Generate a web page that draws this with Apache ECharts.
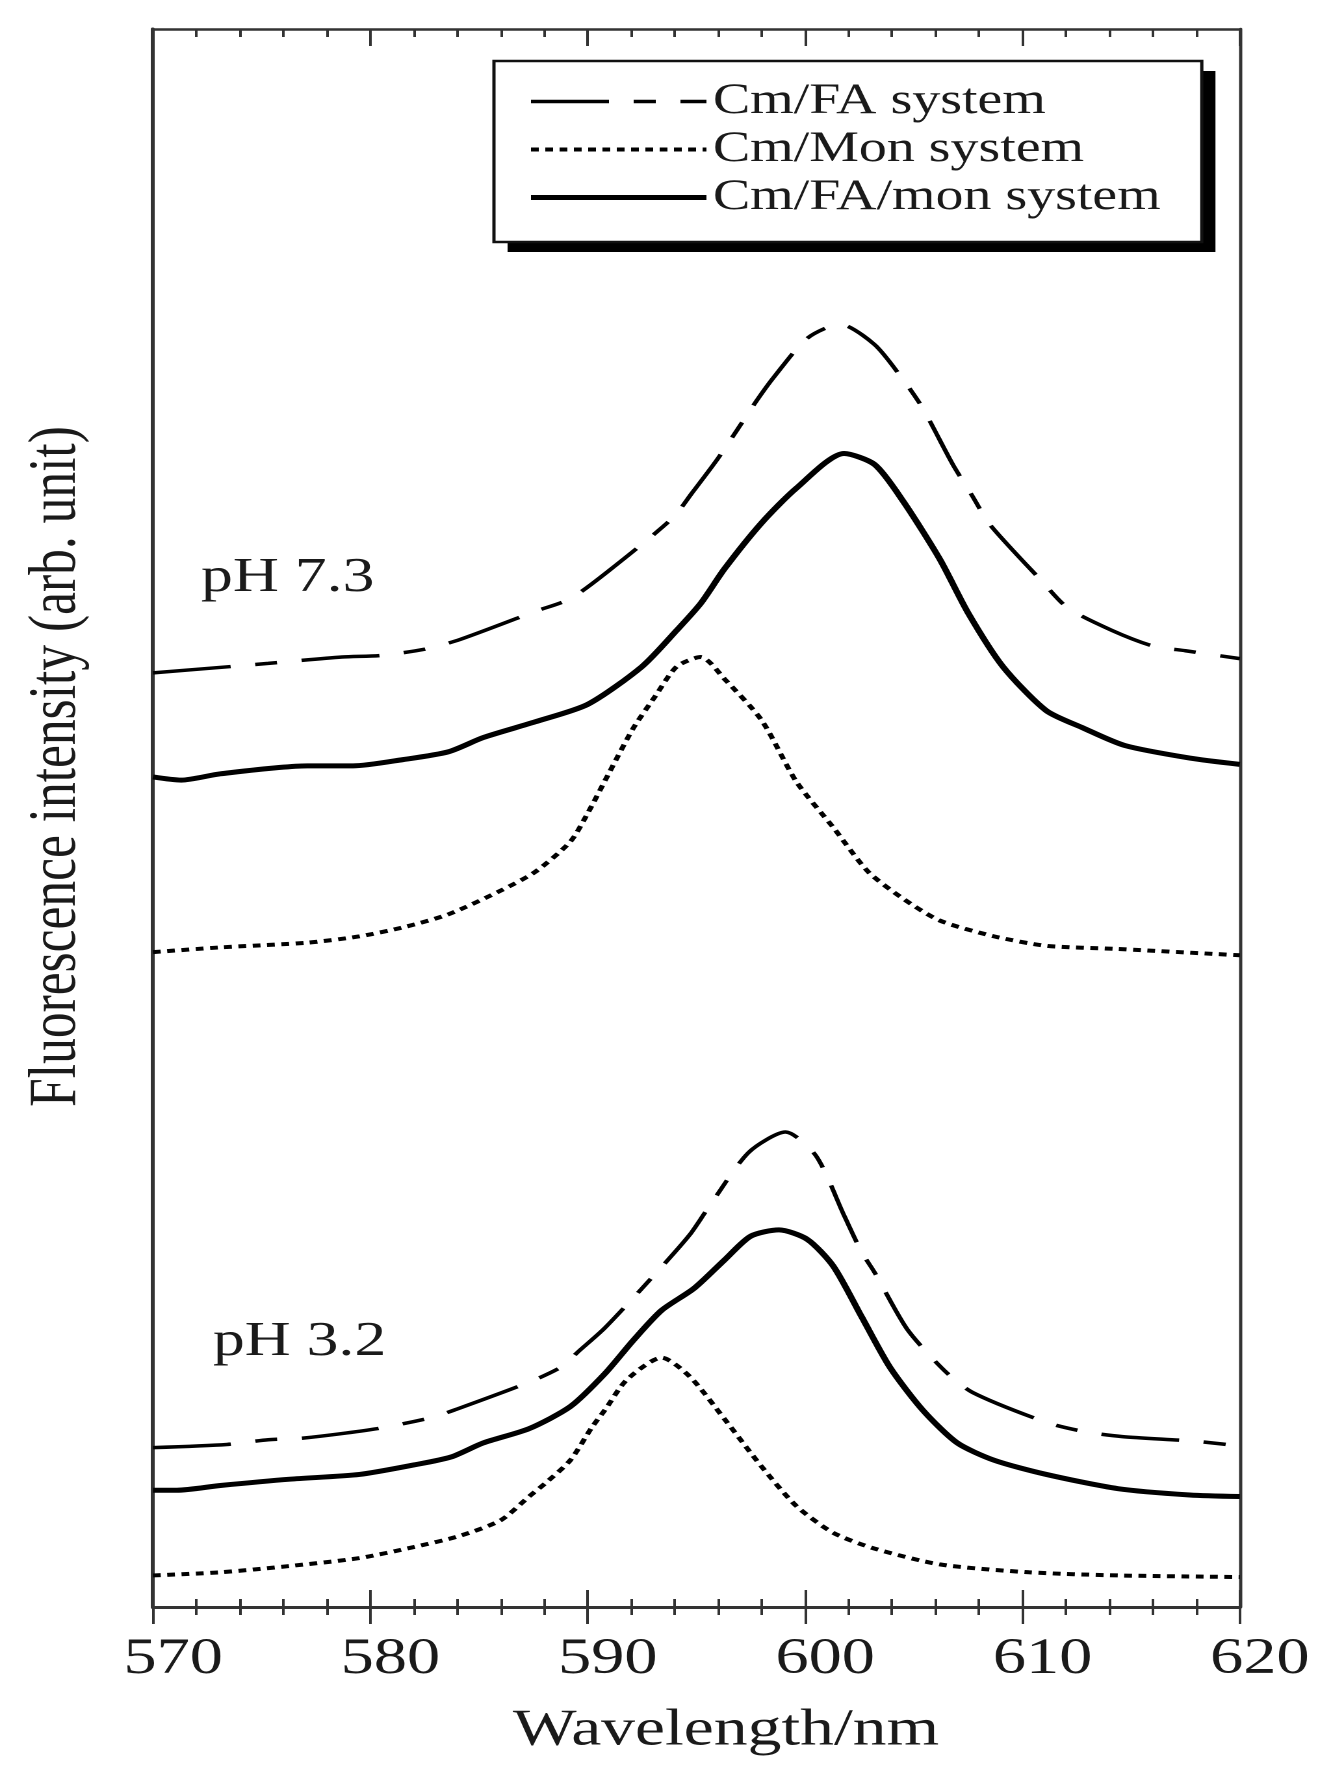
<!DOCTYPE html>
<html><head><meta charset="utf-8">
<script src="https://cdn.jsdelivr.net/npm/echarts@6.0.0/dist/echarts.min.js"></script>
<style>
html,body{margin:0;padding:0;background:#fff;overflow:hidden;}
#chart{width:1034px;height:1776px;transform:scaleX(1.2998);transform-origin:0 0;}
</style></head>
<body><div id="chart"></div>
<script>
// ---- data (wavelength in nm, intensity in arbitrary units 0-100) ----
var seriesNames = ['Cm/FA system', 'Cm/Mon system', 'Cm/FA/mon system'];
var xTickLabels = [570, 580, 590, 600, 610, 620];
var textLabels = ['pH 7.3', 'pH 3.2'];

// pH 7.3
var faPH73Wl  = [570.0,573.6,575.3,578.7,580.5,582.5,584.1,587.6,589.2,591.0,593.9,594.8,596.0,597.8,598.6,600.1,601.6,603.2,604.5,605.4,606.8,607.7,608.5,610.9,612.1,614.1,616.0,617.5,620.0];
var faPH73Int = [59.2,59.6,59.8,60.2,60.3,60.7,61.3,63.1,63.9,65.7,69.0,70.6,72.8,76.5,78.0,80.4,81.3,80.0,77.8,76.0,72.4,70.4,68.6,65.0,63.3,61.9,60.9,60.6,60.1];

var monPH73Wl  = [570.0,573.1,577.1,579.5,581.6,583.6,586.0,587.6,589.2,590.0,591.0,592.1,593.1,594.1,595.2,596.3,598.0,599.6,601.3,602.9,604.5,606.2,608.7,611.1,614.4,620.0];
var monPH73Int = [41.5,41.8,42.1,42.5,43.1,43.9,45.4,46.6,48.5,50.3,52.9,55.7,57.7,59.6,60.2,58.8,56.2,52.3,49.4,46.6,44.9,43.5,42.5,41.9,41.7,41.3];

var mixPH73Wl  = [570.0,571.3,573.1,577.1,579.2,581.5,583.6,585.2,587.6,590.0,592.5,594.1,595.2,596.3,598.0,599.6,601.8,603.2,604.5,606.2,607.5,609.1,611.1,612.8,614.7,617.7,620.0];
var mixPH73Int = [52.6,52.4,52.8,53.3,53.3,53.7,54.2,55.1,56.1,57.2,59.6,61.9,63.6,65.8,68.7,70.9,73.1,72.4,70.1,66.4,63.0,59.6,56.8,55.7,54.6,53.8,53.4];

// pH 3.2
var faPH32Wl  = [570.0,573.4,575.3,576.9,580.3,582.8,583.9,587.4,588.9,589.5,590.8,593.3,594.7,595.5,597.4,599.1,600.5,601.8,602.6,603.2,604.7,606.4,607.7,611.1,612.9,614.6,618.0,620.0];
var faPH32Int = [10.1,10.3,10.6,10.7,11.3,12.0,12.5,14.3,15.3,16.1,17.7,21.4,23.6,25.2,28.8,30.1,28.6,24.8,22.5,21.2,17.6,15.0,13.6,11.7,11.1,10.8,10.5,10.2];

var monPH32Wl  = [570.0,573.1,576.3,579.5,582.0,584.1,586.0,587.3,588.1,589.2,590.2,590.8,591.8,593.4,594.7,596.3,598.0,599.6,601.3,603.2,606.2,610.3,614.4,620.0];
var monPH32Int = [2.0,2.2,2.6,3.1,3.8,4.5,5.5,7.0,7.9,9.3,11.4,12.5,14.4,15.8,14.6,11.9,8.9,6.4,4.7,3.7,2.7,2.2,2.0,1.9];

var mixPH32Wl  = [570.0,571.1,573.1,576.3,579.5,582.0,583.7,585.2,587.3,589.2,590.8,592.1,593.4,594.9,596.3,597.5,598.8,600.1,601.3,602.6,603.9,605.4,607.0,608.7,611.1,614.4,617.7,620.0];
var mixPH32Int = [7.4,7.4,7.7,8.1,8.4,9.0,9.5,10.4,11.3,12.7,14.8,16.9,18.8,20.2,22.0,23.5,23.9,23.3,21.6,18.4,15.2,12.5,10.4,9.3,8.4,7.5,7.1,7.0];

// ---- build ----
function pairs(xs, ys) { return xs.map(function (x, i) { return [x, ys[i]]; }); }
var FONT = '"Liberation Serif", "Times New Roman", Times, serif';
var TXT = '#1a1a1a';

var styleFA  = { color: '#000', width: 3.5, type: [60, 19, 17, 19] };
var styleMon = { color: '#000', width: 4, type: [6, 5] };
var styleMix = { color: '#000', width: 5, type: 'solid' };

function mk(name, xs, ys, ls, z) {
  return { name: name, type: 'line', data: pairs(xs, ys), symbol: 'none', showSymbol: false,
    smooth: 0.25, lineStyle: ls, itemStyle: { color: '#000' }, z: z, silent: true, xAxisIndex: 0, yAxisIndex: 0 };
}

function tickAxis(pos, lineW, opts) {
  var a = {
    type: 'value', position: pos, min: 570, max: 620, interval: 10, gridIndex: 0,
    axisLine: { show: true, lineStyle: { color: '#333', width: lineW } },
    axisTick: { show: true, inside: opts.inside, length: 17, lineStyle: { color: '#333', width: 2 } },
    minorTick: { show: true, splitNumber: 5, length: 8, lineStyle: { color: '#333', width: 2 } },
    splitLine: { show: false }, minorSplitLine: { show: false },
    axisLabel: opts.labels ? { show: true, margin: 27, fontSize: 51, fontFamily: FONT, color: TXT, padding: [0, 0, 0, 31],
      formatter: function (v) { return xTickLabels.indexOf(v) >= 0 ? String(v) : ''; } } : { show: false }
  };
  if (opts.noZero) a.axisLine.onZero = false;
  return a;
}
function yAxisCfg(pos, lineW) {
  return { type: 'value', min: 0, max: 100, position: pos, gridIndex: 0,
    axisLine: { show: true, lineStyle: { color: '#333', width: lineW } },
    axisTick: { show: false }, axisLabel: { show: false }, splitLine: { show: false } };
}

var chart = echarts.init(document.getElementById('chart'), null, { renderer: 'canvas', devicePixelRatio: 2 });
chart.setOption({
  animation: false,
  backgroundColor: '#fff',
  grid: { left: 117.7, top: 29, width: 836.1, height: 1578, containLabel: false },
  xAxis: [
    tickAxis('bottom', 3, { inside: true, labels: true }),
    tickAxis('top', 2.5, { inside: true, labels: false, noZero: true }),
    tickAxis('top', 3, { inside: true, labels: false })
  ],
  yAxis: [ yAxisCfg('left', 3), yAxisCfg('right', 2.5) ],
  legend: {
    orient: 'vertical', left: 380, top: 61, z: 10,
    padding: [19, 29, 21, 26], itemGap: 5, itemWidth: 135, itemHeight: 14,
    itemStyle: { color: 'rgba(0,0,0,0)', borderColor: 'rgba(0,0,0,0)', borderWidth: 0, opacity: 0 },
    lineStyle: { width: 'inherit' },
    textStyle: { fontSize: 43, fontFamily: FONT, color: TXT },
    data: seriesNames
  },
  graphic: [
    { type: 'rect', z: 5, silent: true, shape: { x: 390.5, y: 71, width: 544.6, height: 181 },
      style: { fill: '#000' } },
    { type: 'rect', z: 6, silent: true, shape: { x: 380, y: 61, width: 544.6, height: 181 },
      style: { fill: '#fff', stroke: '#111', lineWidth: 2.5 } },
    { type: 'text', x: 44, y: 766.5, rotation: Math.PI / 2,
      style: { text: 'Fluorescence intensity (arb. unit)', font: '51.5px ' + FONT, fill: TXT, textAlign: 'center', textVerticalAlign: 'middle' } },
    { type: 'text', x: 558.5, y: 1731,
      style: { text: 'Wavelength/nm', font: '52px ' + FONT, fill: TXT, textAlign: 'center', textVerticalAlign: 'middle' } },
    { type: 'text', x: 154.6, y: 578,
      style: { text: textLabels[0], font: '49px ' + FONT, fill: TXT, textAlign: 'left', textVerticalAlign: 'middle' } },
    { type: 'text', x: 163.8, y: 1342,
      style: { text: textLabels[1], font: '49px ' + FONT, fill: TXT, textAlign: 'left', textVerticalAlign: 'middle' } }
  ],
  series: [
    mk(seriesNames[0], faPH73Wl, faPH73Int, styleFA, 3),
    mk(seriesNames[1], monPH73Wl, monPH73Int, styleMon, 3),
    mk(seriesNames[2], mixPH73Wl, mixPH73Int, styleMix, 4),
    mk(seriesNames[0], faPH32Wl, faPH32Int, styleFA, 3),
    mk(seriesNames[1], monPH32Wl, monPH32Int, styleMon, 3),
    mk(seriesNames[2], mixPH32Wl, mixPH32Int, styleMix, 4)
  ]
});
</script>
</body></html>
